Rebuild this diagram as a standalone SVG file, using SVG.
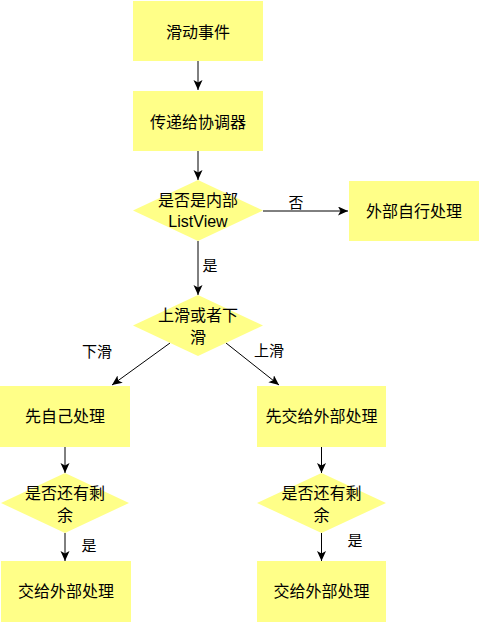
<svg xmlns="http://www.w3.org/2000/svg" width="479" height="622" viewBox="0 0 479 622">
<style>
.n{fill:#ffff88;stroke:none}
.t{font-family:"Liberation Sans","Noto Sans CJK SC",sans-serif;font-size:16px;fill:#000;text-anchor:middle}
.l{font-family:"Liberation Sans","Noto Sans CJK SC",sans-serif;font-size:15px;fill:#000;text-anchor:middle}
.e{stroke:#000;stroke-width:1;fill:none;marker-end:url(#a)}
</style>
<defs>
<marker id="a" markerUnits="userSpaceOnUse" markerWidth="12" markerHeight="10" refX="10" refY="4.5" orient="auto" viewBox="0 0 12 10">
<path d="M0,0 L10,4.5 L0,9 L2.5,4.5 Z" fill="#000"/>
</marker>
</defs>
<g id="edges">
<line class="e" x1="198" y1="61" x2="198" y2="90"/>
<line class="e" x1="198" y1="151" x2="198" y2="180"/>
<line class="e" x1="263" y1="211" x2="348" y2="211"/>
<line class="e" x1="198" y1="241" x2="198" y2="295"/>
<line class="e" x1="170" y1="343" x2="112" y2="385"/>
<line class="e" x1="226" y1="343" x2="279" y2="385"/>
<line class="e" x1="65" y1="447" x2="65" y2="473"/>
<line class="e" x1="65" y1="533" x2="65" y2="561"/>
<line class="e" x1="321.5" y1="447" x2="321.5" y2="473"/>
<line class="e" x1="321.5" y1="533" x2="321.5" y2="561"/>
<text class="l" x="296" y="208">否</text>
<text class="l" x="210" y="271">是</text>
<text class="l" x="97" y="357">下滑</text>
<text class="l" x="269" y="356">上滑</text>
<text class="l" x="89" y="551">是</text>
<text class="l" x="355" y="546">是</text>
</g>
<g id="n1"><rect class="n" x="133" y="1" width="130" height="60"/><text class="t" x="198" y="38">滑动事件</text></g>
<g id="n2"><rect class="n" x="133" y="91" width="130" height="60"/><text class="t" x="198" y="128">传递给协调器</text></g>
<g id="n3"><path class="n" d="M198,180 L263,210.5 L198,241 L133,210.5 Z"/><text class="t" x="198" y="206">是否是内部</text><text class="t" x="198" y="227">ListView</text></g>
<g id="n4"><rect class="n" x="349" y="181" width="130" height="60"/><text class="t" x="414" y="217">外部自行处理</text></g>
<g id="n5"><path class="n" d="M198,295 L263,325.5 L198,356 L133,325.5 Z"/><text class="t" x="198" y="321">上滑或者下</text><text class="t" x="198" y="343">滑</text></g>
<g id="n6"><rect class="n" x="0" y="386" width="130" height="61"/><text class="t" x="65" y="422">先自己处理</text></g>
<g id="n7"><rect class="n" x="257" y="386" width="129" height="61"/><text class="t" x="321.5" y="422">先交给外部处理</text></g>
<g id="n8"><path class="n" d="M65,473 L129,503 L65,533 L1,503 Z"/><text class="t" x="65" y="499">是否还有剩</text><text class="t" x="65" y="521">余</text></g>
<g id="n9"><path class="n" d="M321.5,473 L386,503 L321.5,533 L257,503 Z"/><text class="t" x="321.5" y="499">是否还有剩</text><text class="t" x="321.5" y="521">余</text></g>
<g id="n10"><rect class="n" x="1" y="561" width="130" height="61"/><text class="t" x="66" y="597">交给外部处理</text></g>
<g id="n11"><rect class="n" x="257" y="561" width="129" height="61"/><text class="t" x="321.5" y="597">交给外部处理</text></g>
</svg>
